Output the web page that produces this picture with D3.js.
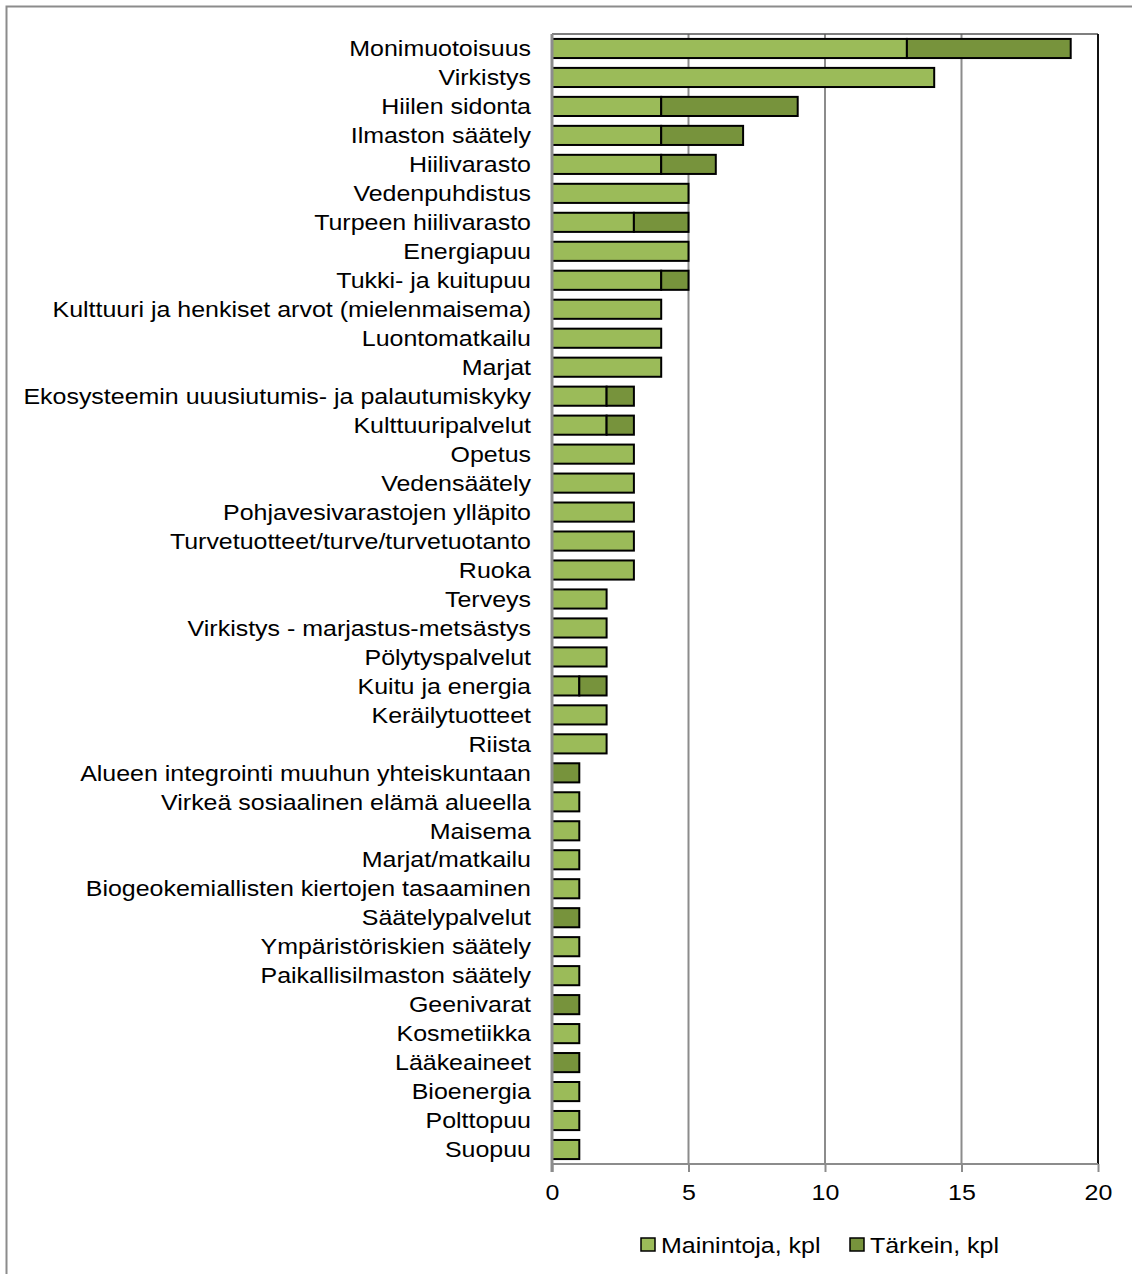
<!DOCTYPE html>
<html>
<head>
<meta charset="utf-8">
<script src="https://cdn.jsdelivr.net/npm/d3@7"></script>
<style>
  html, body { margin: 0; padding: 0; background: #fff; }
  svg { display: block; }
  text { font-family: "Liberation Sans", Arial, sans-serif; fill: #000; }
</style>
</head>
<body>
<svg id="chart" width="1132" height="1274"></svg>
<script>
// Ecosystem services: mentions and "most important" counts
const categories = [
  "Monimuotoisuus", "Virkistys", "Hiilen sidonta", "Ilmaston säätely", "Hiilivarasto",
  "Vedenpuhdistus", "Turpeen hiilivarasto", "Energiapuu", "Tukki- ja kuitupuu",
  "Kulttuuri ja henkiset arvot (mielenmaisema)", "Luontomatkailu", "Marjat",
  "Ekosysteemin uuusiutumis- ja palautumiskyky", "Kulttuuripalvelut", "Opetus",
  "Vedensäätely", "Pohjavesivarastojen ylläpito", "Turvetuotteet/turve/turvetuotanto",
  "Ruoka", "Terveys", "Virkistys - marjastus-metsästys", "Pölytyspalvelut",
  "Kuitu ja energia", "Keräilytuotteet", "Riista",
  "Alueen integrointi muuhun yhteiskuntaan", "Virkeä sosiaalinen elämä alueella",
  "Maisema", "Marjat/matkailu", "Biogeokemiallisten kiertojen tasaaminen",
  "Säätelypalvelut", "Ympäristöriskien säätely", "Paikallisilmaston säätely",
  "Geenivarat", "Kosmetiikka", "Lääkeaineet", "Bioenergia", "Polttopuu", "Suopuu"
];
const mainintoja = [13, 14, 4, 4, 4, 5, 3, 5, 4, 4, 4, 4, 2, 2, 3, 3, 3, 3, 3, 2, 2, 2, 1, 2, 2,
  0, 1, 1, 1, 1, 0, 1, 1, 0, 1, 0, 1, 1, 1];
const tarkein = [6, 0, 5, 3, 2, 0, 2, 0, 1, 0, 0, 0, 1, 1, 0, 0, 0, 0, 0, 0, 0, 0, 1, 0, 0,
  1, 0, 0, 0, 0, 1, 0, 0, 1, 0, 1, 0, 0, 0];
const seriesNames = ["Mainintoja, kpl", "Tärkein, kpl"];
const xTicks = [0, 5, 10, 15, 20];

const colors = ["#9BBB59", "#77933C"];
const fontSize = 22;
const stretch = 1.135;   // wide lettering

const svg = d3.select("#chart");

// outer frame (only top and left edges fall inside the view)
svg.append("rect")
  .attr("x", 6.5).attr("y", 6.5)
  .attr("width", 1200).attr("height", 1300)
  .attr("fill", "none").attr("stroke", "#8c8c8c").attr("stroke-width", 2);

const plot = { left: 552, right: 1098, top: 34, bottom: 1164 };

const x = d3.scaleLinear().domain([0, 20]).range([plot.left, plot.right]);
const y = d3.scaleBand().domain(categories).range([plot.top, plot.bottom]).paddingInner(0.34).paddingOuter(0.17);

// vertical gridlines
svg.append("g")
  .selectAll("line")
  .data(xTicks.filter(t => t > 0 && t < 20))
  .join("line")
  .attr("x1", d => x(d)).attr("x2", d => x(d))
  .attr("y1", plot.top).attr("y2", plot.bottom)
  .attr("stroke", "#8c8c8c").attr("stroke-width", 2);

// plot area frame: top and right
svg.append("line")
  .attr("x1", plot.left).attr("x2", plot.right)
  .attr("y1", plot.top).attr("y2", plot.top)
  .attr("stroke", "#555").attr("stroke-width", 1.5);
svg.append("line")
  .attr("x1", plot.right).attr("x2", plot.right)
  .attr("y1", plot.top).attr("y2", plot.bottom)
  .attr("stroke", "#111").attr("stroke-width", 2);

// stacked bars
const stackData = categories.map((c, i) => ({ cat: c, m: mainintoja[i], t: tarkein[i] }));
const stack = d3.stack().keys(["m", "t"])(stackData);

svg.append("g")
  .selectAll("g")
  .data(stack)
  .join("g")
  .attr("fill", (d, i) => colors[i])
  .selectAll("rect")
  .data(d => d.filter(s => s[1] - s[0] > 0))
  .join("rect")
  .attr("x", d => x(d[0]))
  .attr("y", d => y(d.data.cat))
  .attr("width", d => x(d[1]) - x(d[0]))
  .attr("height", y.bandwidth())
  .attr("stroke", "#000")
  .attr("stroke-width", 2);

// y axis line (left)
svg.append("line")
  .attr("x1", plot.left).attr("x2", plot.left)
  .attr("y1", plot.top).attr("y2", plot.bottom + 8)
  .attr("stroke", "#8c8c8c").attr("stroke-width", 3);

// category labels
svg.append("g")
  .selectAll("text")
  .data(categories)
  .join("text")
  .attr("transform", d => `translate(${plot.left - 21},${y(d) + y.bandwidth() / 2}) scale(${stretch},1)`)
  .attr("dy", "0.35em")
  .attr("text-anchor", "end")
  .attr("font-size", fontSize)
  .text(d => d);

// x axis
const xAxis = d3.axisBottom(x).tickValues(xTicks).tickSize(8).tickPadding(12);
const gx = svg.append("g")
  .attr("transform", `translate(0,${plot.bottom})`)
  .call(xAxis);
gx.select(".domain").attr("stroke", "#8c8c8c").attr("stroke-width", 2).attr("d", `M${plot.left},0H${plot.right}`);
gx.selectAll(".tick line").attr("stroke", "#8c8c8c").attr("stroke-width", 2);
gx.selectAll(".tick text")
  .attr("font-size", fontSize)
  .attr("font-family", "Liberation Sans, Arial, sans-serif")
  .attr("fill", "#000")
  .attr("transform", `scale(${stretch},1)`);

// legend
const legendItems = [
  { name: seriesNames[0], color: colors[0], x: 641 },
  { name: seriesNames[1], color: colors[1], x: 850 }
];
const lg = svg.append("g").selectAll("g").data(legendItems).join("g")
  .attr("transform", d => `translate(${d.x},1245)`);
lg.append("rect")
  .attr("x", 0).attr("y", -7).attr("width", 14).attr("height", 13)
  .attr("fill", d => d.color).attr("stroke", "#000").attr("stroke-width", 1.5);
lg.append("text")
  .attr("transform", `translate(20,0) scale(${stretch},1)`)
  .attr("dy", "0.35em")
  .attr("font-size", fontSize)
  .text(d => d.name);
</script>
</body>
</html>
